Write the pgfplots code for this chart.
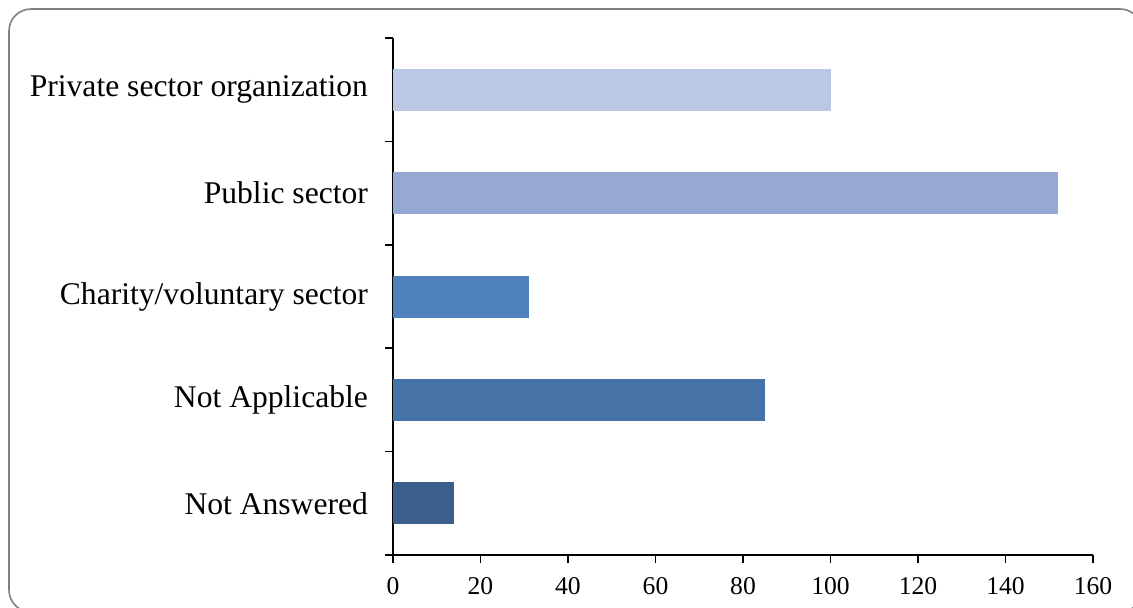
\documentclass[border=0pt]{standalone}
\usepackage{fontspec}
\setmainfont{Liberation Serif}
\usepackage{pgfplots}
\pgfplotsset{compat=1.18}
\definecolor{cPriv}{RGB}{187,200,227}
\definecolor{cPub}{RGB}{149,169,210}
\definecolor{cChar}{RGB}{79,129,189}
\definecolor{cNA}{RGB}{69,115,167}
\definecolor{cNAns}{RGB}{59,94,140}
\definecolor{frame}{RGB}{128,128,128}
\begin{document}
\begin{tikzpicture}
\useasboundingbox (-196.5pt,-26pt) rectangle (370pt,277.5pt);
\draw[frame, line width=0.8pt, rounded corners=11pt] (-192pt,273pt) rectangle (374.5pt,-28.5pt);
\begin{axis}[
  at={(0,0)}, anchor=south west,
  scale only axis,
  width=350pt, height=258.5pt,
  xmin=0, xmax=160,
  ymin=-0.5, ymax=4.5,
  axis x line*=bottom, axis y line*=left,
  axis line style={line width=0.8pt, black},
  tick style={line width=0.8pt, black},
  tick align=outside,
  major tick length=4pt,
  xtick={0,20,...,160},
  ytick={-0.5,0.5,1.5,2.5,3.5,4.5},
  yticklabels={},
  extra y ticks={0,1,2,3,4},
  extra y tick labels={Not Answered,Not Applicable,Charity/voluntary sector,Public sector,Private sector organization},
  extra y tick style={major tick length=0pt},
  yticklabel style={font=\fontsize{15.8}{18}\selectfont, xshift=-9pt},
  xticklabel style={font=\fontsize{12.8}{14}\selectfont, yshift=-3.5pt},
  /pgf/number format/assume math mode=true,
  every axis plot/.append style={xbar, bar width=21pt, bar shift=0pt, draw=none},
]
\addplot[fill=cNAns] coordinates {(14,0)};
\addplot[fill=cNA] coordinates {(85,1)};
\addplot[fill=cChar] coordinates {(31,2)};
\addplot[fill=cPub] coordinates {(152,3)};
\addplot[fill=cPriv] coordinates {(100,4)};
\end{axis}
\end{tikzpicture}
\end{document}
